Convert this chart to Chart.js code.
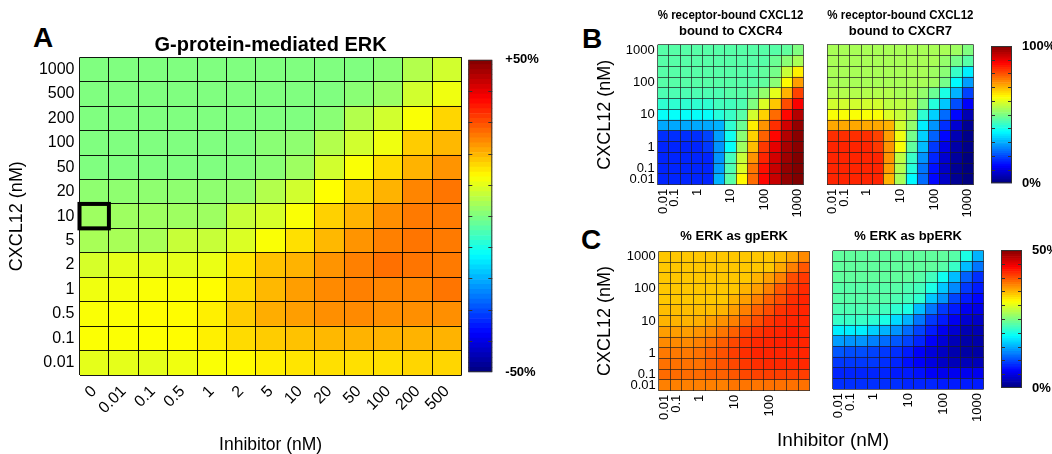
<!DOCTYPE html>
<html lang="en">
<head>
<meta charset="UTF-8" />
<title>CXCL12 / inhibitor heatmaps</title>
<script src="https://cdn.jsdelivr.net/npm/chart.js"></script>
<style>
  body { margin: 0; width: 1052px; height: 454px; overflow: hidden; background: #fff;
         font-family: Arial, "Liberation Sans", sans-serif; }
  canvas { position: absolute; }
  .letter { position: absolute; font-weight: bold; font-size: 28px; line-height: 28px; }
  .xtitle { position: absolute; width: 200px; text-align: center; font-size: 19px; line-height: 19px; }
</style>
</head>
<body>
<div class="letter" style="left:33px; top:24px">A</div>
<div class="letter" style="left:582px; top:25px">B</div>
<div class="letter" style="left:581px; top:226px">C</div>

<canvas id="cA" width="468" height="454" style="left:0; top:0"></canvas>
<canvas id="cAbar" width="80" height="338" style="left:460px; top:47px"></canvas>
<canvas id="cB1" width="240" height="228" style="left:578px; top:0"></canvas>
<canvas id="cB2" width="170" height="228" style="left:818px; top:0"></canvas>
<canvas id="cBbar" width="64" height="158" style="left:988px; top:36px"></canvas>
<canvas id="cC1" width="246" height="232" style="left:578px; top:222px"></canvas>
<canvas id="cC2" width="172" height="232" style="left:826px; top:222px"></canvas>
<canvas id="cCbar" width="54" height="158" style="left:998px; top:240px"></canvas>

<div class="xtitle" style="left:733px; top:430px">Inhibitor (nM)</div>

<script>
  // axis categories
  const inhibitorA = ['0', '0.01', '0.1', '0.5', '1', '2', '5', '10', '20', '50', '100', '200', '500'];
  const inhibitorBC = ['0.01', '0.1', '0.5', '1', '2', '5', '10', '20', '50', '100', '200', '500', '1000'];
  const cxcl12 = ['1000', '500', '200', '100', '50', '20', '10', '5', '2', '1', '0.5', '0.1', '0.01']; // top -> bottom
  const shownBC = ['0.01', '0.1', '1', '10', '100', '1000'];
  const shownC1 = ['0.01', '0.1', '1', '10', '100'];
  const boxInhibitor = '0', boxCxcl12 = '10';

  // A: change in G-protein-mediated ERK (%), rows top -> bottom
  const gpErkChange = [
    [0, 0, 0, 0, 0, 0, 0, 0, 0, 0, 1, 5, 8],
    [0, 0, 0, 0, 0, 0, 0, 0, 0, 1, 2.5, 8, 11],
    [0, 0, 0, 0, 0, 0, 0, 0, 1, 5, 8, 12, 16.5],
    [0, 0, 0, 0, 0, 0, 1, 1.5, 5, 8, 11, 17.5, 19.5],
    [0, 0, 0, 0, 0, 0.3, 1, 3, 8, 12, 16, 20, 23],
    [1.5, 1.5, 1.5, 1.5, 1.5, 2, 5, 8, 12.5, 17, 20, 24.5, 26],
    [3, 3, 3, 3, 3, 7, 8.5, 12, 17, 20, 23.5, 25.5, 25.5],
    [4, 4, 4, 7, 7, 9, 12, 15.5, 19.5, 23, 25, 26, 25.5],
    [8.5, 10, 10, 10, 10.5, 15, 18.5, 20, 23, 25, 26.5, 26, 25.5],
    [11, 11.5, 12, 12, 12.7, 16, 19.5, 22, 24, 25, 24.5, 24.5, 26],
    [12, 12.2, 12.7, 12.7, 14, 17.5, 20.5, 22, 23.5, 24, 23.5, 23.5, 23.5],
    [12.2, 12.2, 12.4, 12.7, 14, 16, 17.5, 18.5, 19.5, 20, 20, 20, 20],
    [10, 10, 10, 11, 12, 12.7, 14, 15, 15.5, 15.5, 15.5, 16.5, 16.5]
  ];

  // B: % receptor-bound CXCL12 bound to CXCR4
  const boundCxcr4 = [
    [46, 46, 46, 46, 46, 46, 46, 46, 46, 46, 46, 47, 50],
    [46, 46, 46, 46, 46, 46, 46, 46, 46, 46, 48, 51, 54],
    [46, 46, 46, 46, 46, 46, 46, 46, 46, 47, 49, 57, 64],
    [46, 46, 46, 46, 46, 46, 46, 46, 46, 47, 51, 63, 72],
    [45, 45, 45, 45, 45, 45, 46, 46, 48, 52, 60, 70, 81],
    [42, 42, 42, 42, 42, 44, 44, 45, 50, 59, 68, 80, 88],
    [38, 38, 38, 38, 38, 41, 43, 46, 58, 67, 77, 87, 95],
    [29, 29, 29, 29, 29, 30, 42, 48, 64, 73, 83, 92, 98],
    [17, 17, 17, 17, 19, 28, 39, 51, 67, 78, 87, 95, 99],
    [16, 16, 16, 16, 18, 27, 38, 53, 69, 82, 90, 96, 99],
    [16, 16, 16, 16, 16, 27, 44, 57, 73, 84, 92, 97, 100],
    [16, 16, 16, 16, 16, 28, 45, 59, 76, 86, 93, 98, 100],
    [16, 16, 16, 16, 16, 30, 46, 63, 77, 87, 93, 98, 100]
  ];

  // B: % receptor-bound CXCL12 bound to CXCR7
  const boundCxcr7 = [
    [54, 54, 54, 54, 54, 54, 54, 54, 54, 54, 54, 53, 50],
    [54, 54, 54, 54, 54, 54, 54, 54, 54, 54, 52, 49, 46],
    [54, 54, 54, 54, 54, 54, 54, 54, 54, 53, 51, 43, 36],
    [54, 54, 54, 54, 54, 54, 54, 54, 54, 53, 49, 37, 28],
    [55, 55, 55, 55, 55, 55, 54, 54, 52, 48, 40, 30, 19],
    [58, 58, 58, 58, 58, 56, 56, 55, 50, 41, 32, 20, 12],
    [62, 62, 62, 62, 62, 59, 57, 54, 42, 33, 23, 13, 5],
    [71, 71, 71, 71, 71, 70, 58, 52, 36, 27, 17, 8, 2],
    [83, 83, 83, 83, 81, 72, 61, 49, 33, 22, 13, 5, 1],
    [84, 84, 84, 84, 82, 73, 62, 47, 31, 18, 10, 4, 1],
    [84, 84, 84, 84, 84, 73, 56, 43, 27, 16, 8, 3, 0],
    [84, 84, 84, 84, 84, 72, 55, 41, 24, 14, 7, 2, 0],
    [84, 84, 84, 84, 84, 70, 54, 37, 23, 13, 7, 2, 0]
  ];

  // C: % ERK as gpERK
  const erkGp = [
    [34, 34, 34, 34, 34, 34, 34, 34, 34, 34, 34.5, 35.5, 37],
    [34, 34, 34, 34, 34, 34, 34, 34, 34, 34, 35.5, 37.5, 39.5],
    [34, 34, 34, 34, 34, 34, 34, 34, 35, 36, 37.5, 40, 41],
    [34, 34, 34, 34, 34, 34, 34, 35, 36, 37.5, 39.5, 40.7, 41.7],
    [34, 34, 34, 34, 34, 34, 35, 36, 37.5, 39, 40, 41.5, 42],
    [34.5, 34.5, 34.5, 34.5, 34.5, 35, 36, 37.5, 39, 40, 41.2, 41.8, 42],
    [35, 35, 35, 35.2, 36, 36.7, 37.5, 39, 40, 41.2, 41.8, 42, 42],
    [36, 36, 36, 36.5, 37, 38, 39, 40.5, 41.2, 41.8, 42, 42.5, 42],
    [37, 37, 37, 37.5, 38.2, 39.2, 40.2, 41.2, 41.8, 42, 42.2, 42.3, 42],
    [37.8, 37.8, 37.8, 38.2, 39, 39.8, 40.7, 41.5, 42, 42, 42, 42, 42],
    [38.2, 38.2, 38.2, 38.2, 39, 39.7, 40.2, 41, 41.5, 41.8, 41.8, 41.8, 41.8],
    [38.5, 38.5, 38.5, 38.5, 39, 39, 39.5, 40.2, 40.5, 40.7, 40.7, 40.7, 40.7],
    [37.5, 37.5, 37.5, 37.5, 37.5, 37.5, 38, 38, 38, 38.2, 38.2, 38.2, 38.2]
  ];

  // C: % ERK as bpERK
  const erkBp = [
    [23.5, 23.5, 23.5, 23.5, 23.5, 23.5, 23.5, 23.5, 23.5, 23.5, 23, 20, 15],
    [23.5, 23.5, 23.5, 23.5, 23.5, 23.5, 23.5, 23.5, 23.5, 23, 21.5, 15.5, 12],
    [23.5, 23.5, 23.5, 23.5, 23.5, 23.5, 23.5, 23, 22, 19.5, 15.5, 11, 8.5],
    [23, 23, 23, 23, 23, 23, 22.5, 22, 20, 16, 13, 9, 7.5],
    [23, 23, 23, 23, 23, 22.5, 22, 21, 16, 13.5, 9.6, 7.5, 6.5],
    [22.5, 22.5, 22.5, 22.5, 22, 21, 20, 15.5, 12, 9, 7.5, 5.5, 5],
    [21.5, 21.5, 21.5, 21, 20, 17, 15, 12, 9, 7.5, 5.5, 4, 3.5],
    [18, 18, 18, 16.5, 15, 13.5, 11.5, 9.5, 7.5, 5.5, 4, 2.5, 2.5],
    [14, 13.5, 13.5, 12.5, 11.5, 10.5, 9.5, 8, 6, 4.3, 2.7, 2, 2],
    [10.5, 10, 10, 9.5, 9, 8.5, 7.5, 6, 4.5, 3.3, 2.3, 1.8, 1.8],
    [9, 9, 9, 9, 8.5, 8, 7, 6, 4.8, 3.5, 2.8, 2.8, 2.8],
    [8, 8, 8, 8, 8, 7.5, 7.5, 7, 6, 5.5, 5.5, 5.5, 5.5],
    [8.5, 8.5, 8.5, 8.5, 8.5, 8.5, 8, 8, 8, 7.5, 7.5, 7.5, 7.5]
  ];

  Chart.defaults.font.family = 'Arial, "Liberation Sans", sans-serif';
  Chart.defaults.color = '#000';

  // MATLAB-style jet colormap
  function jet(t) {
    t = Math.min(1, Math.max(0, t));
    const c = k => Math.round(255 * Math.min(1, Math.max(0, 1.5 - Math.abs(4 * t - k))));
    return `rgb(${c(3)},${c(2)},${c(1)})`;
  }

  function heatmap(id, o) {
    const rows = o.values.slice().reverse();      // dataset 0 = bottom row
    const yLabels = cxcl12.slice().reverse();
    const datasets = rows.map((row, i) => ({
      label: yLabels[i],
      data: row.map(() => 1),
      backgroundColor: row.map(v => jet((v - o.min) / (o.max - o.min))),
      borderWidth: 0,
      barPercentage: 1,
      categoryPercentage: 1
    }));
    return new Chart(document.getElementById(id), {
      type: 'bar',
      data: { labels: o.xLabels, datasets },
      options: {
        responsive: false,
        animation: false,
        events: [],
        layout: { padding: { left: 0, right: o.padRight, top: 0, bottom: 0 } },
        plugins: {
          legend: { display: false },
          tooltip: { enabled: false },
          title: {
            display: true, text: o.title, fullSize: false, color: '#000',
            font: { size: o.titleSize, weight: 'bold', lineHeight: o.titleLH },
            padding: { top: o.titlePad[0], bottom: o.titlePad[1] }
          }
        },
        scales: {
          x: {
            stacked: true,
            offset: true,
            grid: { offset: true, drawTicks: false, color: o.gridColor, z: 1 },
            border: { display: false },
            ticks: {
              autoSkip: false, minRotation: o.rot, maxRotation: o.rot, padding: o.xPad,
              font: { size: o.tickSize },
              callback: function (v) {
                const l = this.getLabelForValue(v);
                return o.xShow.includes(l) ? l : '';
              }
            },
            title: o.xTitle ? {
              display: true, text: o.xTitle, font: { size: 17.5, lineHeight: 1 }, padding: { top: 0, bottom: 0 }
            } : { display: false },
            afterFit: s => { s.height = o.xHeight; }
          },
          y: {
            type: 'linear',
            stacked: true,
            min: 0,
            max: rows.length,
            afterBuildTicks: s => { s.ticks = yLabels.map((_, i) => ({ value: i + 0.5 })); },
            grid: { offset: true, drawTicks: false, color: o.gridColor, z: 1 },
            border: { display: false },
            ticks: {
              autoSkip: false,
              padding: o.yPad,
              font: { size: o.tickSize },
              callback: v => {
                const l = yLabels[Math.floor(v)];
                return o.yShow.includes(l) ? l : '';
              }
            },
            title: o.yTitle ? {
              display: true, text: o.yTitle, font: { size: 18 }, padding: { top: o.yTitlePad, bottom: 0 }
            } : { display: false },
            afterFit: s => { s.width = o.yWidth; }
          }
        }
      },
      plugins: o.plugins || []
    });
  }

  const cbTicks = {
    id: 'cbTicks',
    afterDraw(chart) {
      const { ctx, chartArea: a } = chart;
      const ys = chart.scales.y;
      ctx.save();
      ctx.strokeStyle = '#333';
      ctx.lineWidth = 1;
      ys.ticks.forEach(t => {
        const p = Math.round(ys.getPixelForValue(t.value)) + 0.5;
        if (p < a.top + 2 || p > a.bottom - 2) return;
        ctx.beginPath();
        ctx.moveTo(a.left, p); ctx.lineTo(a.left + 4, p);
        ctx.moveTo(a.right - 4, p); ctx.lineTo(a.right, p);
        ctx.stroke();
      });
      ctx.strokeRect(a.left + 0.5, a.top + 0.5, a.right - a.left - 1, a.bottom - a.top - 1);
      ctx.restore();
    }
  };

  function colorbar(id, o) {
    const n = 64, step = (o.max - o.min) / n;
    const datasets = Array.from({ length: n }, (_, i) => ({
      data: [[o.min + i * step, o.min + (i + 1) * step]],
      backgroundColor: jet((i + 0.5) / n),
      borderWidth: 0,
      barPercentage: 1,
      categoryPercentage: 1
    }));
    return new Chart(document.getElementById(id), {
      type: 'bar',
      data: { labels: [''], datasets },
      options: {
        responsive: false,
        animation: false,
        events: [],
        layout: { padding: o.pad },
        plugins: { legend: { display: false }, tooltip: { enabled: false } },
        scales: {
          x: { display: false, stacked: true },
          y: {
            position: 'right',
            min: o.min,
            max: o.max,
            grid: { display: false },
            border: { display: false },
            ticks: {
              autoSkip: false,
              stepSize: o.step,
              padding: o.labelPad,
              font: { size: 13, weight: 'bold' },
              callback: v => v === o.max ? o.topLabel : (v === o.min ? o.bottomLabel : '')
            },
            afterFit: s => { s.width = o.width; }
          }
        }
      },
      plugins: [cbTicks]
    });
  }

  const highlight = {
    id: 'highlight',
    afterDraw(chart) {
      const { ctx } = chart;
      const xs = chart.scales.x, ys = chart.scales.y;
      const ci = inhibitorA.indexOf(boxInhibitor);
      const ri = cxcl12.length - 1 - cxcl12.indexOf(boxCxcl12);
      const half = (xs.getPixelForValue(1) - xs.getPixelForValue(0)) / 2;
      const x0 = xs.getPixelForValue(ci) - half, x1 = xs.getPixelForValue(ci) + half;
      const y0 = ys.getPixelForValue(ri + 1), y1 = ys.getPixelForValue(ri);
      ctx.save();
      ctx.lineWidth = 4;
      ctx.strokeStyle = '#000';
      ctx.strokeRect(x0, y0, x1 - x0, y1 - y0);
      ctx.restore();
    }
  };

  const gridA = 'rgba(0,0,0,0.9)';
  const gridBC = 'rgba(30,30,30,0.7)';

  heatmap('cA', {
    values: gpErkChange, xLabels: inhibitorA, xShow: inhibitorA, yShow: cxcl12,
    min: -50, max: 50, title: 'G-protein-mediated ERK', titleSize: 20, titleLH: 1.2, titlePad: [33, 0.3],
    gridColor: gridA, rot: 45, xPad: 7, yPad: 5, tickSize: 16,
    xTitle: 'Inhibitor (nM)', yTitle: 'CXCL12 (nM)', yTitlePad: 6.7,
    yWidth: 79.5, xHeight: 79, padRight: 6.3, plugins: [highlight]
  });
  colorbar('cAbar', {
    min: -50, max: 50, step: 10, topLabel: '+50%', bottomLabel: '-50%',
    pad: { left: 8.3, right: 0, top: 10.3, bottom: 10 }, width: 47.7, labelPad: 5
  });

  heatmap('cB1', {
    values: boundCxcr4, xLabels: inhibitorBC, xShow: shownBC, yShow: shownBC,
    min: 0, max: 100, title: ['% receptor-bound CXCL12', 'bound to CXCR4'], titleSize: 13, titleLH: 1.3,
    titlePad: [6.5, 4.4], gridColor: gridBC, rot: 90, xPad: 4, yPad: 3, tickSize: 13,
    yTitle: 'CXCL12 (nM)', yTitlePad: 16.2, yWidth: 79.7, xHeight: 43.3, padRight: 2.3
  });
  heatmap('cB2', {
    values: boundCxcr7, xLabels: inhibitorBC, xShow: shownBC, yShow: [],
    min: 0, max: 100, title: ['% receptor-bound CXCL12', 'bound to CXCR7'], titleSize: 13, titleLH: 1.3,
    titlePad: [6.5, 4.4], gridColor: gridBC, rot: 90, xPad: 4, yPad: 0, tickSize: 13,
    yWidth: 9.3, xHeight: 43.3, padRight: 3
  });
  colorbar('cBbar', {
    min: 0, max: 100, step: 10, topLabel: '100%', bottomLabel: '0%',
    pad: { left: 3, right: 0, top: 10, bottom: 10.7 }, width: 40, labelPad: 2
  });

  heatmap('cC1', {
    values: erkGp, xLabels: inhibitorBC, xShow: shownC1, yShow: shownBC,
    min: 0, max: 50, title: '% ERK as gpERK', titleSize: 13, titleLH: 1.2,
    titlePad: [6.2, 7.5], gridColor: gridBC, rot: 90, xPad: 4, yPad: 3, tickSize: 13,
    yTitle: 'CXCL12 (nM)', yTitlePad: 16.2, yWidth: 80.7, xHeight: 63.3, padRight: 3.3
  });
  heatmap('cC2', {
    values: erkBp, xLabels: inhibitorBC, xShow: shownBC, yShow: [],
    min: 0, max: 50, title: '% ERK as bpERK', titleSize: 13, titleLH: 1.2,
    titlePad: [6.2, 6.9], gridColor: gridBC, rot: 90, xPad: 4, yPad: 0, tickSize: 13,
    yWidth: 6.7, xHeight: 65, padRight: 3
  });
  colorbar('cCbar', {
    min: 0, max: 50, step: 5, topLabel: '50%', bottomLabel: '0%',
    pad: { left: 3, right: 0, top: 10, bottom: 10 }, width: 30, labelPad: 2
  });
</script>
</body>
</html>
